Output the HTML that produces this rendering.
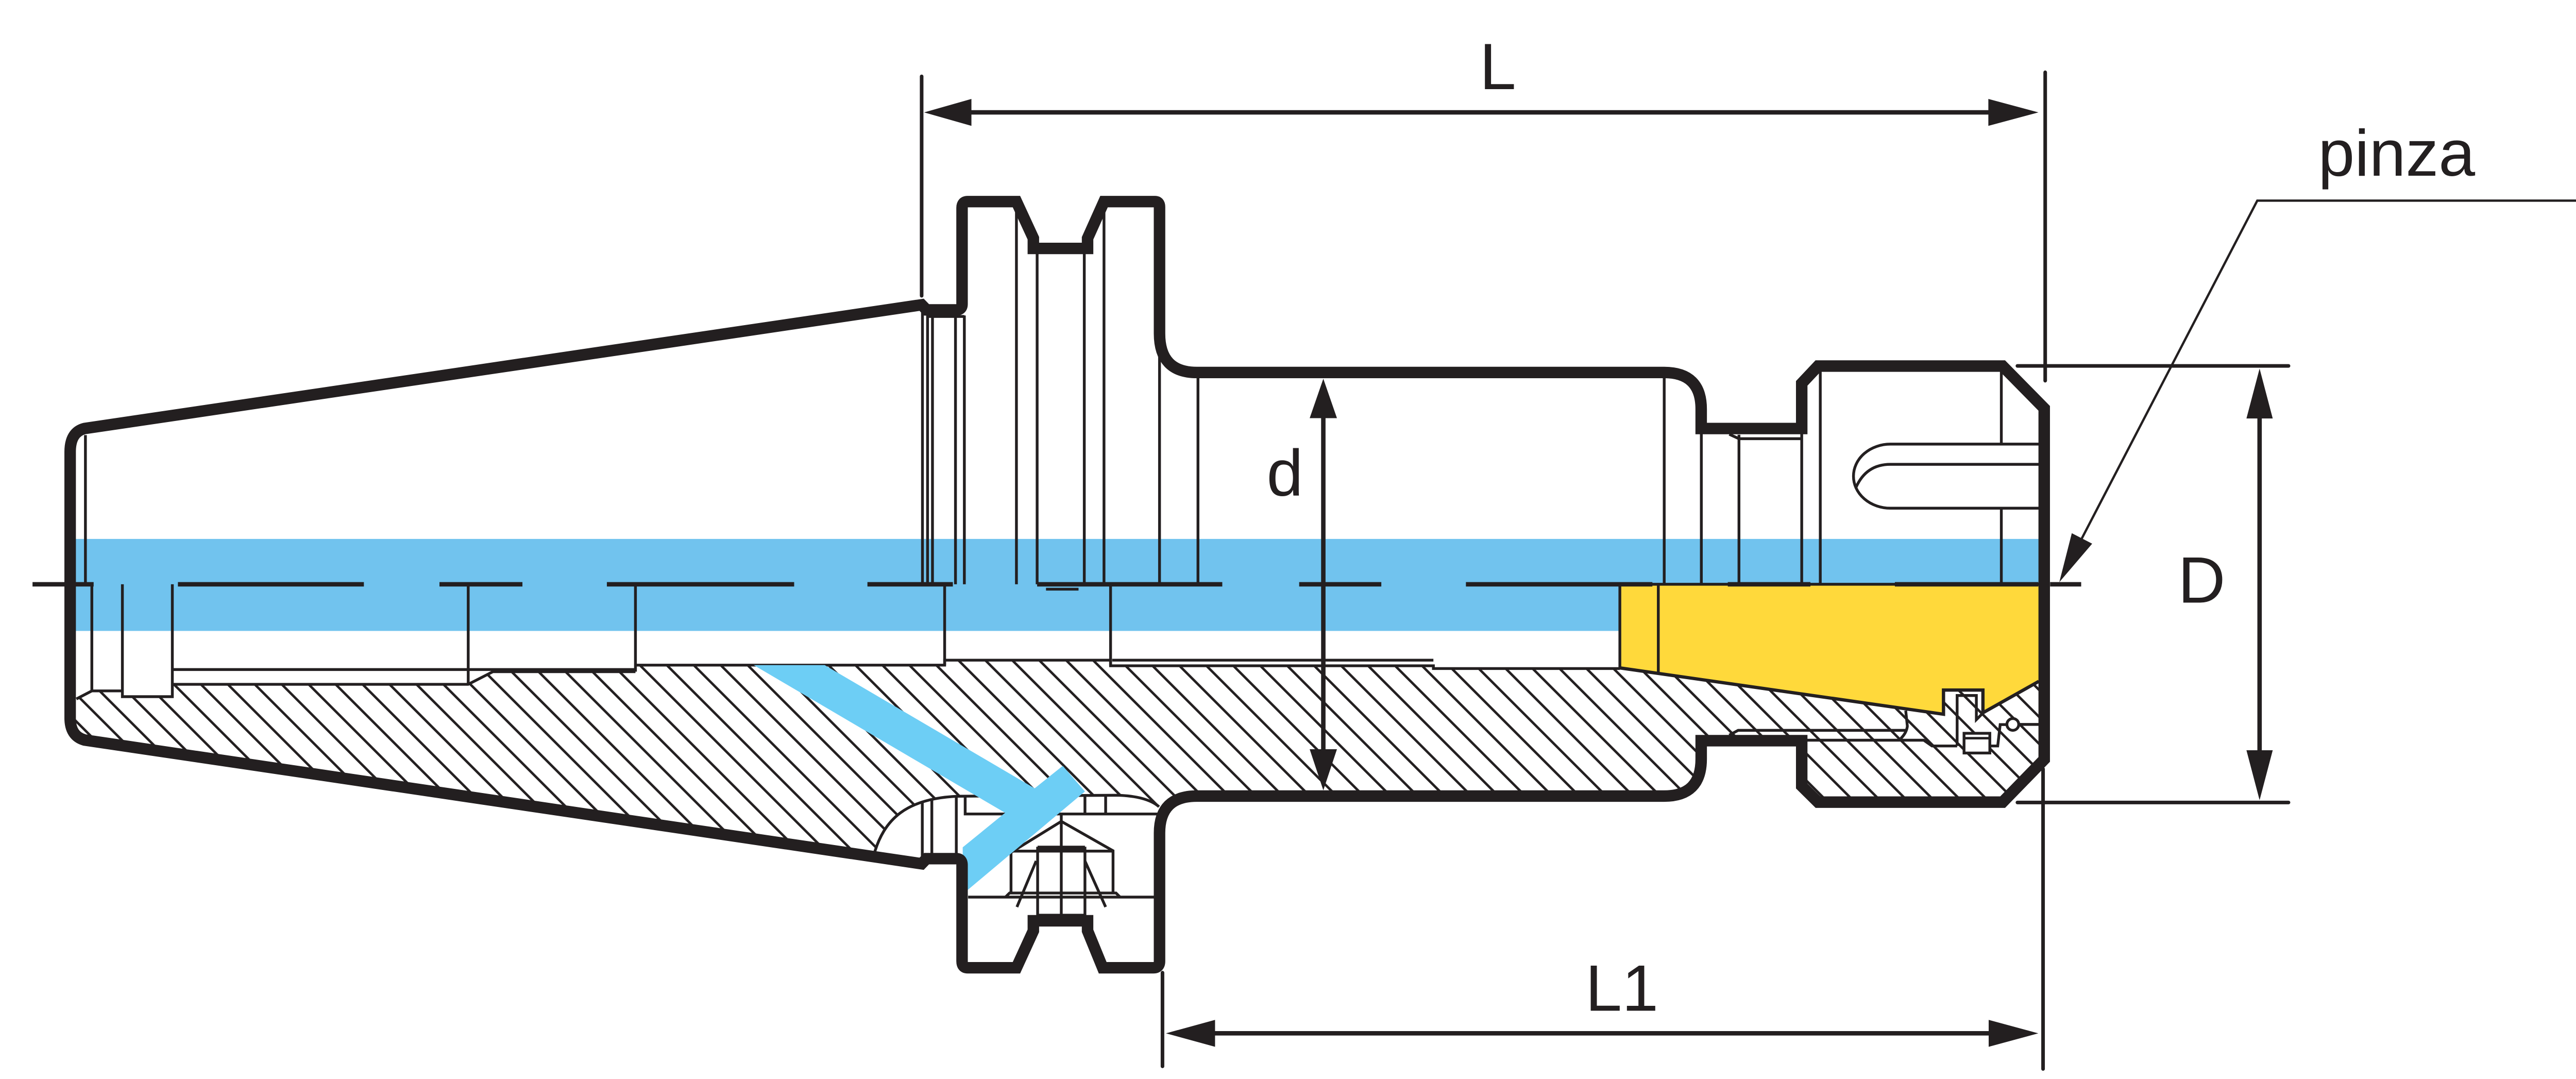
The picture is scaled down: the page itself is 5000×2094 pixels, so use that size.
<!DOCTYPE html>
<html>
<head>
<meta charset="utf-8">
<style>
html,body{margin:0;padding:0;background:#ffffff;}
svg{display:block;}
</style>
</head>
<body>
<svg xmlns="http://www.w3.org/2000/svg" width="5000" height="2094" viewBox="0 0 1568 656.7" preserveAspectRatio="none">
<defs>
<pattern id="h" patternUnits="userSpaceOnUse" width="11.6" height="20" patternTransform="rotate(-45)">
<rect x="0" y="0" width="1.5" height="20" fill="#231f20"/>
</pattern>
</defs>
<rect x="0" y="0" width="1568" height="656.7" fill="#ffffff"/>

<!-- blue coolant band -->
<rect x="45.6" y="328" width="1195.4" height="56" fill="#71c3ee"/>

<!-- yellow collet -->
<polygon points="986,355.6 1241,355.6 1241,414.7 1207,433.8 1207,420 1183,420 1183,434.7 986,406.5" fill="#ffd93b"/>

<!-- hatched section -->
<path d="M42,427 L46.5,425.4 L55.9,420.5 L74.5,420.5 L74.5,424 L104.9,424 L104.9,416.5 L285,416.5 L300,408.8 L386.8,408.8 L386.8,404.8 L575,404.8 L575,401.8 L676,401.8 L676,405.2 L872.5,405.2 L872.5,406.9 L986,406.5 L1183,434.7 L1183,420 L1207,420 L1207,433.8 L1241,414.7 L1245,414.7 L1245,462.2 L1219,488.2 L1106.6,488.2 L1096.7,478.4 L1096.7,450.8 L1035.5,450.8 L1035.5,462 Q1035.5,484.5 1013,484.5 L712,485 L705.5,491 Q698,484.5 680,484 L583,484.6 C552,486 538,498 531.7,521 L51.5,450.4 Q42.7,448 42.7,437 Z" fill="url(#h)"/>

<!-- thin detail lines -->
<g fill="none" stroke="#231f20" stroke-width="1.7" stroke-linejoin="miter">
  <!-- upper half verticals -->
  <path d="M52,264.8 V355.6"/>
  <path d="M561.5,190 V355.6 M564.6,190 V355.6 M567.6,190 V355.6 M581.6,192 V355.6 M587,192 V355.6 M564.6,192.6 H587"/>
  <path d="M618.7,126 V355.6 M631.3,154.6 V355.6 M660,154.6 V355.6 M672,126 V355.6"/>
  <path d="M705.8,210 V355.6 M729.2,230 V355.6 M1013,230 V355.6 M1035.6,264 V355.6"/>
  <path d="M1052.6,264.3 L1058.5,267 H1096.7 M1058.5,264.6 V355.6 M1096.7,264 V355.6 M1108,226 V355.6"/>
  <path d="M1218.2,226 V270.3 M1218.2,309.3 V355.6 M1219.5,227 L1241,248.5"/>
  <path d="M1241,270.3 H1150.7 A22.5,19.5 0 0 0 1150.7,309.3 H1241"/>
  <path d="M1241,282.6 H1150.7 Q1136,282.6 1129.8,296.5"/>
  <path d="M636.7,358.6 H656.5"/>

  <!-- lower half bore lines -->
  <path d="M55.9,355.6 V420.5 M46.5,425.4 L55.9,420.5 H74.5"/>
  <path d="M74.5,355.6 V424 H104.9 V355.6"/>
  <path d="M104.9,407.5 H386.8"/>
  <path d="M104.9,416.5 H285 L300,408.8 H386.8"/>
  <path d="M285,355.6 V416.5 M386.8,355.6 V408.8"/>
  <path d="M386.8,404.8 H575 V401.8 H676 V405.2 H872.5 V406.9 H986"/>
  <path d="M575,355.6 V404.8 M676,355.6 V405.2 M677,401.8 H872.5"/>
  <path d="M986,355.6 V406.5 M1009.4,355.6 V409.7"/>
  <path d="M986,355.6 H1241"/>

  <!-- lower flange region -->
  <path d="M531.7,521 C538,498 552,486 583,484.6 L680,484 Q698,484.5 705.5,491"/>
  <path d="M561.4,487.6 V523 M567.2,486.3 V522 M582.1,484.6 V522"/>
  <path d="M587.5,484.6 V495.4 H704.5 M660.4,484.3 V495.4 M673,484.2 V495.4"/>
  <path d="M589.3,546 H703.2"/>
  <path d="M612,546 L614.5,543.5 H679.3 L681.8,546"/>
  <path d="M646,499.9 L615.4,518.8 V543.5 M646,499.9 L677.5,517.8 V543.5 M615.4,518 H677.5"/>
  <path d="M646,494.7 V557"/>
  <path d="M630.7,524 L619,552 M660.4,524 L673,552"/>

  <!-- nut / collet lower details -->
  <path d="M1052.6,447.4 L1058,444.5 H1160.6"/>
  <path d="M1160,432.5 L1161,442 Q1160.5,446 1157,449.5"/>
  <path d="M1097,450.5 H1171 L1176,454 H1191.3"/>
  <path d="M1191.3,454 V423.3 H1203 V438 L1207,434"/>
  <path d="M1211.2,454 H1216 L1217.5,441 H1221.6 M1228.8,440.9 H1241"/>
</g>
<rect x="631.6" y="516.2" width="28.8" height="40.8" fill="none" stroke="#231f20" stroke-width="1.7"/>
<path d="M631.6,516.2 H660.4" stroke="#231f20" stroke-width="3" fill="none"/>
<rect x="1195.5" y="446.3" width="15.7" height="12" fill="#ffffff" stroke="#231f20" stroke-width="1.7"/>
<path d="M1195.5,449.3 H1211.2" stroke="#231f20" stroke-width="1.5" fill="none"/>
<circle cx="1225.2" cy="440.9" r="3.6" fill="#ffffff" stroke="#231f20" stroke-width="1.7"/>

<!-- yellow boundary line -->
<path d="M986,406.5 L1183,434.7 V420 H1207 V433.8 L1241,414.7" fill="none" stroke="#231f20" stroke-width="2"/>

<!-- centre line dashes -->
<g stroke="#231f20" stroke-width="2.7" fill="none">
  <path d="M19.8,355.6 H57 M108.3,355.6 H221.5 M267.5,355.6 H318 M369.4,355.6 H483.4 M528,355.6 H580 M631.3,355.6 H744 M790.8,355.6 H840.8 M892.3,355.6 H1005.8 M1051.7,355.6 H1102 M1153.4,355.6 H1240.7 M1247.9,355.6 H1266.8"/>
</g>

<!-- blue diagonal coolant channel -->
<polygon points="458.8,404.8 502,404.8 629.8,479.8 646.9,466.1 660.4,481.7 586,544.2 586,515.7 611.8,494.7" fill="#6dcef5"/>

<!-- thick outline -->
<path d="M42.7,437 L42.7,275 Q42.7,263 51.5,260.8 L561,185.5 L564,188.6 L582,188.6 Q585.6,188.6 585.6,185 L585.6,126.5 Q585.6,122.7 589,122.7 L618.7,122.7 L629,145 L629,151.2 L662,151.2 L662,145 L672,122.7 L703,122.7 Q705.8,122.7 705.8,126 L705.8,203 Q705.8,226.7 728.5,226.7 L1013,226.7 Q1035.5,226.7 1035.5,249 L1035.5,260.8 L1096.7,260.8 L1096.7,233.3 L1106.6,222.8 L1219,222.8 L1244.3,248.5 L1244.3,462.2 L1219,488.2 L1106.6,488.2 L1096.7,478.4 L1096.7,450.8 L1035.5,450.8 L1035.5,462 Q1035.5,484.5 1013,484.5 L728.5,484.5 Q705.8,484.5 705.8,507 L705.8,585 Q705.8,589 702,589 L671.2,589 L662,566.5 L662,560.4 L629,560.4 L629,566.5 L618.7,589 L589,589 Q585.6,589 585.6,585 L585.6,526.5 Q585.6,522.6 582,522.6 L564,522.6 L561,525.7 L51.5,450.4 Q42.7,448 42.7,437 Z" fill="none" stroke="#231f20" stroke-width="7" stroke-linejoin="miter" stroke-miterlimit="4"/>

<!-- extension lines -->
<g stroke="#231f20" stroke-width="2.2" fill="none" stroke-linecap="round">
  <path d="M561,46.5 V180"/>
  <path d="M1244.9,44 V231.7"/>
  <path d="M1228,222.7 H1393"/>
  <path d="M1228,488.4 H1393"/>
  <path d="M1243.6,468 V650.6"/>
  <path d="M707.6,592 V649"/>
</g>

<!-- dimension lines -->
<g stroke="#231f20" stroke-width="2.7" fill="none">
  <path d="M580,68.4 H1222"/>
  <path d="M1375.4,240 V472"/>
  <path d="M805.5,245 V466"/>
  <path d="M725,628.9 H1225"/>
</g>
<g fill="#231f20">
  <polygon points="562.5,68.4 591.3,60.2 591.3,76.6"/>
  <polygon points="1240.8,68.4 1210.3,60.2 1210.3,76.6"/>
  <polygon points="1375.4,224.3 1367.4,254.7 1383.4,254.7"/>
  <polygon points="1375.4,487 1367.4,456.6 1383.4,456.6"/>
  <polygon points="805.5,230.5 797.2,254.5 813.8,254.5"/>
  <polygon points="805.5,481 797.2,456 813.8,456"/>
  <polygon points="709.7,628.9 739.6,620.7 739.6,637.1"/>
  <polygon points="1240.7,628.9 1210.5,620.7 1210.5,637.1"/>
  <polygon points="1253.5,354.3 1261.1,324.5 1273.5,330.9"/>
</g>

<!-- pinza leader -->
<path d="M1568,122.1 H1374 L1266,330" fill="none" stroke="#231f20" stroke-width="1.4"/>

<!-- labels -->
<g fill="#231f20" font-family="'Liberation Sans', Arial, Helvetica, sans-serif" font-size="40">
  <text x="900.6" y="54.2">L</text>
  <text x="965" y="615.1">L1</text>
  <text x="771" y="301.5">d</text>
  <text x="1325.7" y="366.7">D</text>
  <text x="1411" y="107">pinza</text>
</g>
</svg>
</body>
</html>
